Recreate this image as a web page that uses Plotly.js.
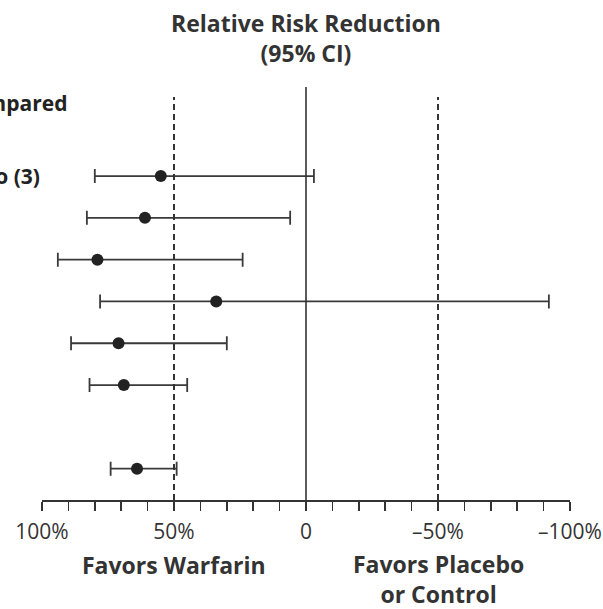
<!DOCTYPE html>
<html>
<head>
<meta charset="utf-8">
<script src="https://cdn.plot.ly/plotly-3.0.1.min.js"></script>
<style>html,body{margin:0;padding:0;background:#fff;}#chart{width:603px;height:609px;}</style>
</head>
<body>
<div id="chart"></div>
<script>
// Row positions (row index, 6 is an empty spacer row)
var rowIndex = [0, 1, 2, 3, 4, 5, 7];
// Relative risk reduction (%) point estimates and 95% CI bounds
var rrr     = [55, 61, 79, 34, 71, 69, 64];
var ciUpper = [80, 83, 94, 78, 89, 82, 74];
var ciLower = [-3, 6, 24, -92, 30, 45, 49];

var tickValues = [100, 90, 80, 70, 60, 50, 40, 30, 20, 10, 0, -10, -20, -30, -40, -50, -60, -70, -80, -90, -100];
var tickLabels = ['100%', '', '', '', '', '50%', '', '', '', '', '0', '', '', '', '', '\u201350%', '', '', '', '', '\u2013100%'];

var headerLabel = 'Adjusted-dose warfarin compared';
var rowLabel = 'Warfarin vs. placebo (3)';

var ink = '#2b2b2b';
var font = '"Open Sans", "DejaVu Sans", sans-serif';

var plus = rrr.map(function (v, i) { return ciUpper[i] - v; });
var minus = rrr.map(function (v, i) { return v - ciLower[i]; });

var trace = {
  type: 'scatter',
  mode: 'markers',
  x: rrr,
  y: rowIndex,
  marker: {size: 12, color: '#222'},
  error_x: {type: 'data', symmetric: false, array: plus, arrayminus: minus,
            color: '#3a3a3a', thickness: 1.8, width: 7},
  hoverinfo: 'skip',
  showlegend: false
};

var layout = {
  width: 603, height: 609,
  margin: {l: 42, r: 33, t: 87, b: 109},
  paper_bgcolor: '#fff', plot_bgcolor: '#fff',
  font: {family: font, color: ink},
  title: {text: '<b>Relative Risk Reduction</b><br><b>(95% CI)</b>',
          font: {family: font, size: 23, color: '#333'},
          x: 0.5, xref: 'paper', xanchor: 'center',
          y: 0.947, yref: 'container', yanchor: 'middle'},
  xaxis: {range: [100, -100], autorange: false, showgrid: false, zeroline: false,
          showline: true, linecolor: '#333', linewidth: 1.6,
          ticks: 'outside', ticklen: 9, tickwidth: 1.5, tickcolor: '#333',
          ticklabelstandoff: 3,
          tickvals: tickValues, ticktext: tickLabels,
          tickfont: {family: font, size: 21, color: '#333'}},
  yaxis: {range: [7.75, -2.13], autorange: false, visible: false, showgrid: false, zeroline: false},
  shapes: [
    {type: 'line', xref: 'x', yref: 'paper', x0: 0, x1: 0, y0: 0, y1: 1,
     line: {color: '#333', width: 1.6}},
    {type: 'line', xref: 'x', yref: 'paper', x0: 50, x1: 50, y0: 0, y1: 0.976,
     line: {color: '#333', width: 2, dash: '6px,4px'}},
    {type: 'line', xref: 'x', yref: 'paper', x0: -50, x1: -50, y0: 0, y1: 0.976,
     line: {color: '#333', width: 2, dash: '6px,4px'}}
  ],
  annotations: [
    {text: '<b>Favors Warfarin</b>', xref: 'x', yref: 'paper', x: 50, y: -0.157,
     xanchor: 'center', yanchor: 'middle', showarrow: false,
     font: {family: font, size: 23, color: '#333'}},
    {text: '<b>Favors Placebo</b><br><b>or Control</b>', xref: 'x', yref: 'paper', x: -50, y: -0.191,
     xanchor: 'center', yanchor: 'middle', showarrow: false,
     font: {family: font, size: 23, color: '#333'}},
    {text: '<b>' + headerLabel + '</b>', xref: 'paper', yref: 'y', x: 0.051, y: -1.75,
     xanchor: 'right', yanchor: 'middle', showarrow: false,
     font: {family: font, size: 21, color: '#222'}},
    {text: '<b>' + rowLabel + '</b>', xref: 'paper', yref: 'y', x: 0.0, y: 0,
     xanchor: 'right', yanchor: 'middle', showarrow: false,
     font: {family: font, size: 21, color: '#222'}}
  ]
};

Plotly.newPlot('chart', [trace], layout, {displayModeBar: false, staticPlot: true});
</script>
</body>
</html>
